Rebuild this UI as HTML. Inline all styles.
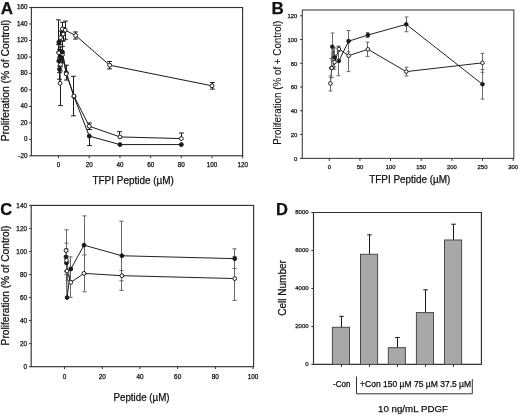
<!DOCTYPE html>
<html><head><meta charset="utf-8"><style>
html,body{margin:0;padding:0;background:#fff;width:520px;height:417px;overflow:hidden}
svg{display:block;will-change:transform}
text{stroke:#111;stroke-width:0.25px}
</style></head><body>
<svg width="520" height="417" viewBox="0 0 520 417" font-family="Liberation Sans, sans-serif" fill="#111">
<rect width="520" height="417" fill="#fff"/>
<rect x="31.35" y="7.5" width="211.25" height="148.25" fill="none" stroke="#333" stroke-width="1.15"/>
<line x1="58.60" y1="155.75" x2="58.60" y2="158.25" stroke="#333" stroke-width="1"/>
<text x="58.60" y="166.60" font-size="6.3" text-anchor="middle" font-weight="normal" >0</text>
<line x1="89.28" y1="155.75" x2="89.28" y2="158.25" stroke="#333" stroke-width="1"/>
<text x="89.28" y="166.60" font-size="6.3" text-anchor="middle" font-weight="normal" >20</text>
<line x1="119.96" y1="155.75" x2="119.96" y2="158.25" stroke="#333" stroke-width="1"/>
<text x="119.96" y="166.60" font-size="6.3" text-anchor="middle" font-weight="normal" >40</text>
<line x1="150.64" y1="155.75" x2="150.64" y2="158.25" stroke="#333" stroke-width="1"/>
<text x="150.64" y="166.60" font-size="6.3" text-anchor="middle" font-weight="normal" >60</text>
<line x1="181.32" y1="155.75" x2="181.32" y2="158.25" stroke="#333" stroke-width="1"/>
<text x="181.32" y="166.60" font-size="6.3" text-anchor="middle" font-weight="normal" >80</text>
<line x1="212.00" y1="155.75" x2="212.00" y2="158.25" stroke="#333" stroke-width="1"/>
<text x="212.00" y="166.60" font-size="6.3" text-anchor="middle" font-weight="normal" >100</text>
<line x1="242.68" y1="155.75" x2="242.68" y2="158.25" stroke="#333" stroke-width="1"/>
<text x="242.68" y="166.60" font-size="6.3" text-anchor="middle" font-weight="normal" >120</text>
<line x1="29.15" y1="155.89" x2="31.35" y2="155.89" stroke="#333" stroke-width="1"/>
<text x="27.40" y="157.86" font-size="6.3" text-anchor="end" font-weight="normal" >-20</text>
<line x1="29.15" y1="139.40" x2="31.35" y2="139.40" stroke="#333" stroke-width="1"/>
<text x="27.40" y="141.37" font-size="6.3" text-anchor="end" font-weight="normal" >0</text>
<line x1="29.15" y1="122.91" x2="31.35" y2="122.91" stroke="#333" stroke-width="1"/>
<text x="27.40" y="124.88" font-size="6.3" text-anchor="end" font-weight="normal" >20</text>
<line x1="29.15" y1="106.42" x2="31.35" y2="106.42" stroke="#333" stroke-width="1"/>
<text x="27.40" y="108.39" font-size="6.3" text-anchor="end" font-weight="normal" >40</text>
<line x1="29.15" y1="89.94" x2="31.35" y2="89.94" stroke="#333" stroke-width="1"/>
<text x="27.40" y="91.90" font-size="6.3" text-anchor="end" font-weight="normal" >60</text>
<line x1="29.15" y1="73.45" x2="31.35" y2="73.45" stroke="#333" stroke-width="1"/>
<text x="27.40" y="75.42" font-size="6.3" text-anchor="end" font-weight="normal" >80</text>
<line x1="29.15" y1="56.96" x2="31.35" y2="56.96" stroke="#333" stroke-width="1"/>
<text x="27.40" y="58.93" font-size="6.3" text-anchor="end" font-weight="normal" >100</text>
<line x1="29.15" y1="40.47" x2="31.35" y2="40.47" stroke="#333" stroke-width="1"/>
<text x="27.40" y="42.44" font-size="6.3" text-anchor="end" font-weight="normal" >120</text>
<line x1="29.15" y1="23.98" x2="31.35" y2="23.98" stroke="#333" stroke-width="1"/>
<text x="27.40" y="25.95" font-size="6.3" text-anchor="end" font-weight="normal" >140</text>
<line x1="29.15" y1="7.50" x2="31.35" y2="7.50" stroke="#333" stroke-width="1"/>
<text x="27.40" y="9.46" font-size="6.3" text-anchor="end" font-weight="normal" >160</text>
<text x="9.00" y="80.60" font-size="10" text-anchor="middle" font-weight="normal" transform="rotate(-90 9.0 80.6)" textLength="121.5" lengthAdjust="spacingAndGlyphs">Proliferation (% of Control)</text>
<text x="133.20" y="183.60" font-size="10" text-anchor="middle" font-weight="normal" textLength="81.5" lengthAdjust="spacingAndGlyphs">TFPI Peptide (µM)</text>
<text x="7.00" y="13.90" font-size="17" text-anchor="middle" font-weight="bold" >A</text>
<polyline points="60.44,37.67 62.44,28.93 63.20,34.12 65.20,30.17 75.63,35.53 109.68,65.20 212.00,85.81" fill="none" stroke="#1a1a1a" stroke-width="1"/>
<line x1="60.50" y1="37.67" x2="60.50" y2="31.07" stroke="#1a1a1a" stroke-width="1"/>
<line x1="58.10" y1="31.07" x2="62.90" y2="31.07" stroke="#1a1a1a" stroke-width="1"/>
<line x1="60.50" y1="37.67" x2="60.50" y2="44.26" stroke="#1a1a1a" stroke-width="1"/>
<line x1="58.10" y1="44.26" x2="62.90" y2="44.26" stroke="#1a1a1a" stroke-width="1"/>
<line x1="62.50" y1="28.93" x2="62.50" y2="22.34" stroke="#1a1a1a" stroke-width="1"/>
<line x1="60.10" y1="22.34" x2="64.90" y2="22.34" stroke="#1a1a1a" stroke-width="1"/>
<line x1="62.50" y1="28.93" x2="62.50" y2="35.53" stroke="#1a1a1a" stroke-width="1"/>
<line x1="60.10" y1="35.53" x2="64.90" y2="35.53" stroke="#1a1a1a" stroke-width="1"/>
<line x1="63.50" y1="34.12" x2="63.50" y2="27.53" stroke="#1a1a1a" stroke-width="1"/>
<line x1="61.10" y1="27.53" x2="65.90" y2="27.53" stroke="#1a1a1a" stroke-width="1"/>
<line x1="63.50" y1="34.12" x2="63.50" y2="40.72" stroke="#1a1a1a" stroke-width="1"/>
<line x1="61.10" y1="40.72" x2="65.90" y2="40.72" stroke="#1a1a1a" stroke-width="1"/>
<line x1="65.50" y1="30.17" x2="65.50" y2="21.10" stroke="#1a1a1a" stroke-width="1"/>
<line x1="63.10" y1="21.10" x2="67.90" y2="21.10" stroke="#1a1a1a" stroke-width="1"/>
<line x1="65.50" y1="30.17" x2="65.50" y2="39.24" stroke="#1a1a1a" stroke-width="1"/>
<line x1="63.10" y1="39.24" x2="67.90" y2="39.24" stroke="#1a1a1a" stroke-width="1"/>
<line x1="75.50" y1="35.53" x2="75.50" y2="31.98" stroke="#1a1a1a" stroke-width="1"/>
<line x1="73.10" y1="31.98" x2="77.90" y2="31.98" stroke="#1a1a1a" stroke-width="1"/>
<line x1="75.50" y1="35.53" x2="75.50" y2="39.07" stroke="#1a1a1a" stroke-width="1"/>
<line x1="73.10" y1="39.07" x2="77.90" y2="39.07" stroke="#1a1a1a" stroke-width="1"/>
<line x1="109.50" y1="65.20" x2="109.50" y2="61.49" stroke="#1a1a1a" stroke-width="1"/>
<line x1="107.10" y1="61.49" x2="111.90" y2="61.49" stroke="#1a1a1a" stroke-width="1"/>
<line x1="109.50" y1="65.20" x2="109.50" y2="68.91" stroke="#1a1a1a" stroke-width="1"/>
<line x1="107.10" y1="68.91" x2="111.90" y2="68.91" stroke="#1a1a1a" stroke-width="1"/>
<line x1="212.50" y1="85.81" x2="212.50" y2="82.52" stroke="#1a1a1a" stroke-width="1"/>
<line x1="210.10" y1="82.52" x2="214.90" y2="82.52" stroke="#1a1a1a" stroke-width="1"/>
<line x1="212.50" y1="85.81" x2="212.50" y2="89.11" stroke="#1a1a1a" stroke-width="1"/>
<line x1="210.10" y1="89.11" x2="214.90" y2="89.11" stroke="#1a1a1a" stroke-width="1"/>
<polyline points="58.85,42.12 59.08,61.08 59.57,69.33 60.52,56.96 62.44,52.01 66.27,72.62 73.94,96.53 89.28,136.10 119.96,144.59 181.32,144.59" fill="none" stroke="#1a1a1a" stroke-width="1"/>
<line x1="58.50" y1="42.12" x2="58.50" y2="19.86" stroke="#1a1a1a" stroke-width="1"/>
<line x1="56.10" y1="19.86" x2="60.90" y2="19.86" stroke="#1a1a1a" stroke-width="1"/>
<line x1="58.50" y1="42.12" x2="58.50" y2="52.01" stroke="#1a1a1a" stroke-width="1"/>
<line x1="56.10" y1="52.01" x2="60.90" y2="52.01" stroke="#1a1a1a" stroke-width="1"/>
<line x1="59.50" y1="61.08" x2="59.50" y2="49.54" stroke="#1a1a1a" stroke-width="1"/>
<line x1="57.10" y1="49.54" x2="61.90" y2="49.54" stroke="#1a1a1a" stroke-width="1"/>
<line x1="59.50" y1="61.08" x2="59.50" y2="72.62" stroke="#1a1a1a" stroke-width="1"/>
<line x1="57.10" y1="72.62" x2="61.90" y2="72.62" stroke="#1a1a1a" stroke-width="1"/>
<line x1="59.50" y1="69.33" x2="59.50" y2="59.43" stroke="#1a1a1a" stroke-width="1"/>
<line x1="57.10" y1="59.43" x2="61.90" y2="59.43" stroke="#1a1a1a" stroke-width="1"/>
<line x1="59.50" y1="69.33" x2="59.50" y2="79.22" stroke="#1a1a1a" stroke-width="1"/>
<line x1="57.10" y1="79.22" x2="61.90" y2="79.22" stroke="#1a1a1a" stroke-width="1"/>
<line x1="60.50" y1="56.96" x2="60.50" y2="47.07" stroke="#1a1a1a" stroke-width="1"/>
<line x1="58.10" y1="47.07" x2="62.90" y2="47.07" stroke="#1a1a1a" stroke-width="1"/>
<line x1="60.50" y1="56.96" x2="60.50" y2="66.85" stroke="#1a1a1a" stroke-width="1"/>
<line x1="58.10" y1="66.85" x2="62.90" y2="66.85" stroke="#1a1a1a" stroke-width="1"/>
<line x1="62.50" y1="52.01" x2="62.50" y2="41.30" stroke="#1a1a1a" stroke-width="1"/>
<line x1="60.10" y1="41.30" x2="64.90" y2="41.30" stroke="#1a1a1a" stroke-width="1"/>
<line x1="62.50" y1="52.01" x2="62.50" y2="62.73" stroke="#1a1a1a" stroke-width="1"/>
<line x1="60.10" y1="62.73" x2="64.90" y2="62.73" stroke="#1a1a1a" stroke-width="1"/>
<line x1="89.50" y1="136.10" x2="89.50" y2="145.58" stroke="#1a1a1a" stroke-width="1"/>
<line x1="87.10" y1="145.58" x2="91.90" y2="145.58" stroke="#1a1a1a" stroke-width="1"/>
<polyline points="58.85,52.84 60.06,83.34 59.57,57.78 60.52,64.38 62.44,54.49 66.27,73.86 73.94,96.04 89.28,126.21 119.96,136.93 181.32,138.58" fill="none" stroke="#1a1a1a" stroke-width="1"/>
<line x1="58.50" y1="52.84" x2="58.50" y2="44.59" stroke="#1a1a1a" stroke-width="1"/>
<line x1="56.10" y1="44.59" x2="60.90" y2="44.59" stroke="#1a1a1a" stroke-width="1"/>
<line x1="58.50" y1="52.84" x2="58.50" y2="61.08" stroke="#1a1a1a" stroke-width="1"/>
<line x1="56.10" y1="61.08" x2="60.90" y2="61.08" stroke="#1a1a1a" stroke-width="1"/>
<line x1="60.50" y1="83.34" x2="60.50" y2="105.60" stroke="#1a1a1a" stroke-width="1"/>
<line x1="58.10" y1="105.60" x2="62.90" y2="105.60" stroke="#1a1a1a" stroke-width="1"/>
<line x1="59.50" y1="57.78" x2="59.50" y2="49.54" stroke="#1a1a1a" stroke-width="1"/>
<line x1="57.10" y1="49.54" x2="61.90" y2="49.54" stroke="#1a1a1a" stroke-width="1"/>
<line x1="59.50" y1="57.78" x2="59.50" y2="66.03" stroke="#1a1a1a" stroke-width="1"/>
<line x1="57.10" y1="66.03" x2="61.90" y2="66.03" stroke="#1a1a1a" stroke-width="1"/>
<line x1="60.50" y1="64.38" x2="60.50" y2="57.78" stroke="#1a1a1a" stroke-width="1"/>
<line x1="58.10" y1="57.78" x2="62.90" y2="57.78" stroke="#1a1a1a" stroke-width="1"/>
<line x1="60.50" y1="64.38" x2="60.50" y2="70.97" stroke="#1a1a1a" stroke-width="1"/>
<line x1="58.10" y1="70.97" x2="62.90" y2="70.97" stroke="#1a1a1a" stroke-width="1"/>
<line x1="62.50" y1="54.49" x2="62.50" y2="46.24" stroke="#1a1a1a" stroke-width="1"/>
<line x1="60.10" y1="46.24" x2="64.90" y2="46.24" stroke="#1a1a1a" stroke-width="1"/>
<line x1="62.50" y1="54.49" x2="62.50" y2="62.73" stroke="#1a1a1a" stroke-width="1"/>
<line x1="60.10" y1="62.73" x2="64.90" y2="62.73" stroke="#1a1a1a" stroke-width="1"/>
<line x1="66.50" y1="73.86" x2="66.50" y2="65.20" stroke="#1a1a1a" stroke-width="1"/>
<line x1="64.10" y1="65.20" x2="68.90" y2="65.20" stroke="#1a1a1a" stroke-width="1"/>
<line x1="66.50" y1="73.86" x2="66.50" y2="80.04" stroke="#1a1a1a" stroke-width="1"/>
<line x1="64.10" y1="80.04" x2="68.90" y2="80.04" stroke="#1a1a1a" stroke-width="1"/>
<line x1="73.50" y1="96.04" x2="73.50" y2="76.25" stroke="#1a1a1a" stroke-width="1"/>
<line x1="71.10" y1="76.25" x2="75.90" y2="76.25" stroke="#1a1a1a" stroke-width="1"/>
<line x1="73.50" y1="96.04" x2="73.50" y2="115.82" stroke="#1a1a1a" stroke-width="1"/>
<line x1="71.10" y1="115.82" x2="75.90" y2="115.82" stroke="#1a1a1a" stroke-width="1"/>
<line x1="89.50" y1="126.21" x2="89.50" y2="122.91" stroke="#1a1a1a" stroke-width="1"/>
<line x1="87.10" y1="122.91" x2="91.90" y2="122.91" stroke="#1a1a1a" stroke-width="1"/>
<line x1="89.50" y1="126.21" x2="89.50" y2="129.51" stroke="#1a1a1a" stroke-width="1"/>
<line x1="87.10" y1="129.51" x2="91.90" y2="129.51" stroke="#1a1a1a" stroke-width="1"/>
<line x1="119.50" y1="136.93" x2="119.50" y2="131.73" stroke="#1a1a1a" stroke-width="1"/>
<line x1="117.10" y1="131.73" x2="121.90" y2="131.73" stroke="#1a1a1a" stroke-width="1"/>
<line x1="181.50" y1="138.58" x2="181.50" y2="132.97" stroke="#1a1a1a" stroke-width="1"/>
<line x1="179.10" y1="132.97" x2="183.90" y2="132.97" stroke="#1a1a1a" stroke-width="1"/>
<circle cx="58.85" cy="52.84" r="1.95" fill="#fff" stroke="#1a1a1a" stroke-width="1"/>
<circle cx="60.06" cy="83.34" r="1.95" fill="#fff" stroke="#1a1a1a" stroke-width="1"/>
<circle cx="59.57" cy="57.78" r="1.95" fill="#fff" stroke="#1a1a1a" stroke-width="1"/>
<circle cx="60.52" cy="64.38" r="1.95" fill="#fff" stroke="#1a1a1a" stroke-width="1"/>
<circle cx="62.44" cy="54.49" r="1.95" fill="#fff" stroke="#1a1a1a" stroke-width="1"/>
<circle cx="58.85" cy="42.12" r="1.95" fill="#1a1a1a" stroke="#1a1a1a" stroke-width="1"/>
<circle cx="59.08" cy="61.08" r="1.95" fill="#1a1a1a" stroke="#1a1a1a" stroke-width="1"/>
<circle cx="59.57" cy="69.33" r="1.95" fill="#1a1a1a" stroke="#1a1a1a" stroke-width="1"/>
<circle cx="60.52" cy="56.96" r="1.95" fill="#1a1a1a" stroke="#1a1a1a" stroke-width="1"/>
<circle cx="62.44" cy="52.01" r="1.95" fill="#1a1a1a" stroke="#1a1a1a" stroke-width="1"/>
<circle cx="66.27" cy="72.62" r="1.95" fill="#1a1a1a" stroke="#1a1a1a" stroke-width="1"/>
<circle cx="73.94" cy="96.53" r="1.95" fill="#1a1a1a" stroke="#1a1a1a" stroke-width="1"/>
<circle cx="89.28" cy="136.10" r="1.95" fill="#1a1a1a" stroke="#1a1a1a" stroke-width="1"/>
<circle cx="119.96" cy="144.59" r="1.95" fill="#1a1a1a" stroke="#1a1a1a" stroke-width="1"/>
<circle cx="181.32" cy="144.59" r="1.95" fill="#1a1a1a" stroke="#1a1a1a" stroke-width="1"/>
<circle cx="66.27" cy="73.86" r="1.95" fill="#fff" stroke="#1a1a1a" stroke-width="1"/>
<circle cx="73.94" cy="96.04" r="1.95" fill="#fff" stroke="#1a1a1a" stroke-width="1"/>
<circle cx="89.28" cy="126.21" r="1.95" fill="#fff" stroke="#1a1a1a" stroke-width="1"/>
<circle cx="119.96" cy="136.93" r="1.95" fill="#fff" stroke="#1a1a1a" stroke-width="1"/>
<circle cx="181.32" cy="138.58" r="1.95" fill="#fff" stroke="#1a1a1a" stroke-width="1"/>
<circle cx="60.44" cy="37.67" r="1.95" fill="#fff" stroke="#1a1a1a" stroke-width="1"/>
<circle cx="62.44" cy="28.93" r="1.95" fill="#fff" stroke="#1a1a1a" stroke-width="1"/>
<circle cx="63.20" cy="34.12" r="1.95" fill="#fff" stroke="#1a1a1a" stroke-width="1"/>
<circle cx="65.20" cy="30.17" r="1.95" fill="#fff" stroke="#1a1a1a" stroke-width="1"/>
<circle cx="75.63" cy="35.53" r="1.95" fill="#fff" stroke="#1a1a1a" stroke-width="1"/>
<circle cx="109.68" cy="65.20" r="1.95" fill="#fff" stroke="#1a1a1a" stroke-width="1"/>
<circle cx="212.00" cy="85.81" r="1.95" fill="#fff" stroke="#1a1a1a" stroke-width="1"/>
<rect x="302.3" y="10.0" width="211.49999999999994" height="148.4" fill="none" stroke="#4a4a4a" stroke-width="1.15"/>
<line x1="329.30" y1="158.40" x2="329.30" y2="160.90" stroke="#333" stroke-width="1"/>
<text x="329.30" y="169.00" font-size="5.9" text-anchor="middle" font-weight="normal" >0</text>
<line x1="359.94" y1="158.40" x2="359.94" y2="160.90" stroke="#333" stroke-width="1"/>
<text x="359.94" y="169.00" font-size="5.9" text-anchor="middle" font-weight="normal" >50</text>
<line x1="390.58" y1="158.40" x2="390.58" y2="160.90" stroke="#333" stroke-width="1"/>
<text x="390.58" y="169.00" font-size="5.9" text-anchor="middle" font-weight="normal" >100</text>
<line x1="421.22" y1="158.40" x2="421.22" y2="160.90" stroke="#333" stroke-width="1"/>
<text x="421.22" y="169.00" font-size="5.9" text-anchor="middle" font-weight="normal" >150</text>
<line x1="451.86" y1="158.40" x2="451.86" y2="160.90" stroke="#333" stroke-width="1"/>
<text x="451.86" y="169.00" font-size="5.9" text-anchor="middle" font-weight="normal" >200</text>
<line x1="482.50" y1="158.40" x2="482.50" y2="160.90" stroke="#333" stroke-width="1"/>
<text x="482.50" y="169.00" font-size="5.9" text-anchor="middle" font-weight="normal" >250</text>
<line x1="513.14" y1="158.40" x2="513.14" y2="160.90" stroke="#333" stroke-width="1"/>
<text x="513.14" y="169.00" font-size="5.9" text-anchor="middle" font-weight="normal" >300</text>
<line x1="300.10" y1="158.30" x2="302.30" y2="158.30" stroke="#333" stroke-width="1"/>
<text x="297.30" y="160.72" font-size="5.9" text-anchor="end" font-weight="normal" >0</text>
<line x1="300.10" y1="134.55" x2="302.30" y2="134.55" stroke="#333" stroke-width="1"/>
<text x="297.30" y="136.97" font-size="5.9" text-anchor="end" font-weight="normal" >20</text>
<line x1="300.10" y1="110.80" x2="302.30" y2="110.80" stroke="#333" stroke-width="1"/>
<text x="297.30" y="113.22" font-size="5.9" text-anchor="end" font-weight="normal" >40</text>
<line x1="300.10" y1="87.05" x2="302.30" y2="87.05" stroke="#333" stroke-width="1"/>
<text x="297.30" y="89.47" font-size="5.9" text-anchor="end" font-weight="normal" >60</text>
<line x1="300.10" y1="63.30" x2="302.30" y2="63.30" stroke="#333" stroke-width="1"/>
<text x="297.30" y="65.72" font-size="5.9" text-anchor="end" font-weight="normal" >80</text>
<line x1="300.10" y1="39.55" x2="302.30" y2="39.55" stroke="#333" stroke-width="1"/>
<text x="297.30" y="41.97" font-size="5.9" text-anchor="end" font-weight="normal" >100</text>
<line x1="300.10" y1="15.80" x2="302.30" y2="15.80" stroke="#333" stroke-width="1"/>
<text x="297.30" y="18.22" font-size="5.9" text-anchor="end" font-weight="normal" >120</text>
<text x="280.60" y="82.80" font-size="10" text-anchor="middle" font-weight="normal" style="stroke-width:0.1px" transform="rotate(-90 280.6 82.8)" textLength="124" lengthAdjust="spacingAndGlyphs">Proliferation (% of + Control)</text>
<text x="409.80" y="183.00" font-size="10" text-anchor="middle" font-weight="normal" textLength="81.2" lengthAdjust="spacingAndGlyphs">TFPI Peptide (µM)</text>
<text x="277.60" y="14.00" font-size="17" text-anchor="middle" font-weight="bold" >B</text>
<polyline points="331.44,68.05 332.30,46.68 334.57,57.36 338.86,60.93 348.60,41.21 367.91,35.04 406.21,24.35 482.50,84.32" fill="none" stroke="#222" stroke-width="1"/>
<line x1="331.50" y1="68.05" x2="331.50" y2="58.55" stroke="#6a6a6a" stroke-width="1"/>
<line x1="329.60" y1="58.55" x2="333.40" y2="58.55" stroke="#6a6a6a" stroke-width="1"/>
<line x1="331.50" y1="68.05" x2="331.50" y2="77.55" stroke="#6a6a6a" stroke-width="1"/>
<line x1="329.60" y1="77.55" x2="333.40" y2="77.55" stroke="#6a6a6a" stroke-width="1"/>
<line x1="332.50" y1="46.68" x2="332.50" y2="33.02" stroke="#6a6a6a" stroke-width="1"/>
<line x1="330.60" y1="33.02" x2="334.40" y2="33.02" stroke="#6a6a6a" stroke-width="1"/>
<line x1="332.50" y1="46.68" x2="332.50" y2="60.33" stroke="#6a6a6a" stroke-width="1"/>
<line x1="330.60" y1="60.33" x2="334.40" y2="60.33" stroke="#6a6a6a" stroke-width="1"/>
<line x1="334.50" y1="57.36" x2="334.50" y2="47.86" stroke="#6a6a6a" stroke-width="1"/>
<line x1="332.60" y1="47.86" x2="336.40" y2="47.86" stroke="#6a6a6a" stroke-width="1"/>
<line x1="334.50" y1="57.36" x2="334.50" y2="66.86" stroke="#6a6a6a" stroke-width="1"/>
<line x1="332.60" y1="66.86" x2="336.40" y2="66.86" stroke="#6a6a6a" stroke-width="1"/>
<line x1="338.50" y1="60.93" x2="338.50" y2="46.08" stroke="#6a6a6a" stroke-width="1"/>
<line x1="336.60" y1="46.08" x2="340.40" y2="46.08" stroke="#6a6a6a" stroke-width="1"/>
<line x1="338.50" y1="60.93" x2="338.50" y2="75.77" stroke="#6a6a6a" stroke-width="1"/>
<line x1="336.60" y1="75.77" x2="340.40" y2="75.77" stroke="#6a6a6a" stroke-width="1"/>
<line x1="348.50" y1="41.21" x2="348.50" y2="30.53" stroke="#6a6a6a" stroke-width="1"/>
<line x1="346.60" y1="30.53" x2="350.40" y2="30.53" stroke="#6a6a6a" stroke-width="1"/>
<line x1="348.50" y1="41.21" x2="348.50" y2="51.90" stroke="#6a6a6a" stroke-width="1"/>
<line x1="346.60" y1="51.90" x2="350.40" y2="51.90" stroke="#6a6a6a" stroke-width="1"/>
<line x1="367.50" y1="35.04" x2="367.50" y2="32.66" stroke="#6a6a6a" stroke-width="1"/>
<line x1="365.60" y1="32.66" x2="369.40" y2="32.66" stroke="#6a6a6a" stroke-width="1"/>
<line x1="367.50" y1="35.04" x2="367.50" y2="37.41" stroke="#6a6a6a" stroke-width="1"/>
<line x1="365.60" y1="37.41" x2="369.40" y2="37.41" stroke="#6a6a6a" stroke-width="1"/>
<line x1="406.50" y1="24.35" x2="406.50" y2="16.99" stroke="#6a6a6a" stroke-width="1"/>
<line x1="404.60" y1="16.99" x2="408.40" y2="16.99" stroke="#6a6a6a" stroke-width="1"/>
<line x1="406.50" y1="24.35" x2="406.50" y2="31.71" stroke="#6a6a6a" stroke-width="1"/>
<line x1="404.60" y1="31.71" x2="408.40" y2="31.71" stroke="#6a6a6a" stroke-width="1"/>
<line x1="482.50" y1="84.32" x2="482.50" y2="69.48" stroke="#6a6a6a" stroke-width="1"/>
<line x1="480.60" y1="69.48" x2="484.40" y2="69.48" stroke="#6a6a6a" stroke-width="1"/>
<line x1="482.50" y1="84.32" x2="482.50" y2="99.16" stroke="#6a6a6a" stroke-width="1"/>
<line x1="480.60" y1="99.16" x2="484.40" y2="99.16" stroke="#6a6a6a" stroke-width="1"/>
<polyline points="330.40,83.49 331.69,68.05 334.57,62.11 338.86,49.05 348.60,55.70 367.91,49.29 406.21,71.61 482.50,62.83" fill="none" stroke="#222" stroke-width="1"/>
<line x1="330.50" y1="83.49" x2="330.50" y2="76.01" stroke="#6a6a6a" stroke-width="1"/>
<line x1="328.60" y1="76.01" x2="332.40" y2="76.01" stroke="#6a6a6a" stroke-width="1"/>
<line x1="330.50" y1="83.49" x2="330.50" y2="90.97" stroke="#6a6a6a" stroke-width="1"/>
<line x1="328.60" y1="90.97" x2="332.40" y2="90.97" stroke="#6a6a6a" stroke-width="1"/>
<line x1="331.50" y1="68.05" x2="331.50" y2="58.55" stroke="#6a6a6a" stroke-width="1"/>
<line x1="329.60" y1="58.55" x2="333.40" y2="58.55" stroke="#6a6a6a" stroke-width="1"/>
<line x1="331.50" y1="68.05" x2="331.50" y2="77.55" stroke="#6a6a6a" stroke-width="1"/>
<line x1="329.60" y1="77.55" x2="333.40" y2="77.55" stroke="#6a6a6a" stroke-width="1"/>
<line x1="334.50" y1="62.11" x2="334.50" y2="54.99" stroke="#6a6a6a" stroke-width="1"/>
<line x1="332.60" y1="54.99" x2="336.40" y2="54.99" stroke="#6a6a6a" stroke-width="1"/>
<line x1="334.50" y1="62.11" x2="334.50" y2="69.24" stroke="#6a6a6a" stroke-width="1"/>
<line x1="332.60" y1="69.24" x2="336.40" y2="69.24" stroke="#6a6a6a" stroke-width="1"/>
<line x1="338.50" y1="49.05" x2="338.50" y2="46.68" stroke="#6a6a6a" stroke-width="1"/>
<line x1="336.60" y1="46.68" x2="340.40" y2="46.68" stroke="#6a6a6a" stroke-width="1"/>
<line x1="338.50" y1="49.05" x2="338.50" y2="51.43" stroke="#6a6a6a" stroke-width="1"/>
<line x1="336.60" y1="51.43" x2="340.40" y2="51.43" stroke="#6a6a6a" stroke-width="1"/>
<line x1="348.50" y1="55.70" x2="348.50" y2="39.79" stroke="#6a6a6a" stroke-width="1"/>
<line x1="346.60" y1="39.79" x2="350.40" y2="39.79" stroke="#6a6a6a" stroke-width="1"/>
<line x1="348.50" y1="55.70" x2="348.50" y2="71.61" stroke="#6a6a6a" stroke-width="1"/>
<line x1="346.60" y1="71.61" x2="350.40" y2="71.61" stroke="#6a6a6a" stroke-width="1"/>
<line x1="367.50" y1="49.29" x2="367.50" y2="42.16" stroke="#6a6a6a" stroke-width="1"/>
<line x1="365.60" y1="42.16" x2="369.40" y2="42.16" stroke="#6a6a6a" stroke-width="1"/>
<line x1="367.50" y1="49.29" x2="367.50" y2="56.41" stroke="#6a6a6a" stroke-width="1"/>
<line x1="365.60" y1="56.41" x2="369.40" y2="56.41" stroke="#6a6a6a" stroke-width="1"/>
<line x1="406.50" y1="71.61" x2="406.50" y2="67.22" stroke="#6a6a6a" stroke-width="1"/>
<line x1="404.60" y1="67.22" x2="408.40" y2="67.22" stroke="#6a6a6a" stroke-width="1"/>
<line x1="406.50" y1="71.61" x2="406.50" y2="76.01" stroke="#6a6a6a" stroke-width="1"/>
<line x1="404.60" y1="76.01" x2="408.40" y2="76.01" stroke="#6a6a6a" stroke-width="1"/>
<line x1="482.50" y1="62.83" x2="482.50" y2="53.33" stroke="#6a6a6a" stroke-width="1"/>
<line x1="480.60" y1="53.33" x2="484.40" y2="53.33" stroke="#6a6a6a" stroke-width="1"/>
<line x1="482.50" y1="62.83" x2="482.50" y2="72.33" stroke="#6a6a6a" stroke-width="1"/>
<line x1="480.60" y1="72.33" x2="484.40" y2="72.33" stroke="#6a6a6a" stroke-width="1"/>
<circle cx="331.44" cy="68.05" r="1.8" fill="#1a1a1a" stroke="#1a1a1a" stroke-width="1"/>
<circle cx="332.30" cy="46.68" r="1.8" fill="#1a1a1a" stroke="#1a1a1a" stroke-width="1"/>
<circle cx="334.57" cy="57.36" r="1.8" fill="#1a1a1a" stroke="#1a1a1a" stroke-width="1"/>
<circle cx="338.86" cy="60.93" r="1.8" fill="#1a1a1a" stroke="#1a1a1a" stroke-width="1"/>
<circle cx="348.60" cy="41.21" r="1.8" fill="#1a1a1a" stroke="#1a1a1a" stroke-width="1"/>
<circle cx="367.91" cy="35.04" r="1.8" fill="#1a1a1a" stroke="#1a1a1a" stroke-width="1"/>
<circle cx="406.21" cy="24.35" r="1.8" fill="#1a1a1a" stroke="#1a1a1a" stroke-width="1"/>
<circle cx="482.50" cy="84.32" r="1.8" fill="#1a1a1a" stroke="#1a1a1a" stroke-width="1"/>
<circle cx="330.40" cy="83.49" r="1.8" fill="#fff" stroke="#1a1a1a" stroke-width="1"/>
<circle cx="331.69" cy="68.05" r="1.8" fill="#fff" stroke="#1a1a1a" stroke-width="1"/>
<circle cx="334.57" cy="62.11" r="1.8" fill="#fff" stroke="#1a1a1a" stroke-width="1"/>
<circle cx="338.86" cy="49.05" r="1.8" fill="#fff" stroke="#1a1a1a" stroke-width="1"/>
<circle cx="348.60" cy="55.70" r="1.8" fill="#fff" stroke="#1a1a1a" stroke-width="1"/>
<circle cx="367.91" cy="49.29" r="1.8" fill="#fff" stroke="#1a1a1a" stroke-width="1"/>
<circle cx="406.21" cy="71.61" r="1.8" fill="#fff" stroke="#1a1a1a" stroke-width="1"/>
<circle cx="482.50" cy="62.83" r="1.8" fill="#fff" stroke="#1a1a1a" stroke-width="1"/>
<rect x="31.2" y="205.4" width="222.4" height="161.29999999999998" fill="none" stroke="#333" stroke-width="1.15"/>
<line x1="64.60" y1="366.70" x2="64.60" y2="369.20" stroke="#333" stroke-width="1"/>
<text x="64.60" y="378.50" font-size="6.4" text-anchor="middle" font-weight="normal" >0</text>
<line x1="102.28" y1="366.70" x2="102.28" y2="369.20" stroke="#333" stroke-width="1"/>
<text x="102.28" y="378.50" font-size="6.4" text-anchor="middle" font-weight="normal" >20</text>
<line x1="139.96" y1="366.70" x2="139.96" y2="369.20" stroke="#333" stroke-width="1"/>
<text x="139.96" y="378.50" font-size="6.4" text-anchor="middle" font-weight="normal" >40</text>
<line x1="177.64" y1="366.70" x2="177.64" y2="369.20" stroke="#333" stroke-width="1"/>
<text x="177.64" y="378.50" font-size="6.4" text-anchor="middle" font-weight="normal" >60</text>
<line x1="215.32" y1="366.70" x2="215.32" y2="369.20" stroke="#333" stroke-width="1"/>
<text x="215.32" y="378.50" font-size="6.4" text-anchor="middle" font-weight="normal" >80</text>
<line x1="253.00" y1="366.70" x2="253.00" y2="369.20" stroke="#333" stroke-width="1"/>
<text x="253.00" y="378.50" font-size="6.4" text-anchor="middle" font-weight="normal" >100</text>
<line x1="29.00" y1="366.70" x2="31.20" y2="366.70" stroke="#333" stroke-width="1"/>
<text x="27.00" y="369.00" font-size="6.4" text-anchor="end" font-weight="normal" >0</text>
<line x1="29.00" y1="343.66" x2="31.20" y2="343.66" stroke="#333" stroke-width="1"/>
<text x="27.00" y="345.96" font-size="6.4" text-anchor="end" font-weight="normal" >20</text>
<line x1="29.00" y1="320.62" x2="31.20" y2="320.62" stroke="#333" stroke-width="1"/>
<text x="27.00" y="322.92" font-size="6.4" text-anchor="end" font-weight="normal" >40</text>
<line x1="29.00" y1="297.57" x2="31.20" y2="297.57" stroke="#333" stroke-width="1"/>
<text x="27.00" y="299.88" font-size="6.4" text-anchor="end" font-weight="normal" >60</text>
<line x1="29.00" y1="274.53" x2="31.20" y2="274.53" stroke="#333" stroke-width="1"/>
<text x="27.00" y="276.84" font-size="6.4" text-anchor="end" font-weight="normal" >80</text>
<line x1="29.00" y1="251.49" x2="31.20" y2="251.49" stroke="#333" stroke-width="1"/>
<text x="27.00" y="253.79" font-size="6.4" text-anchor="end" font-weight="normal" >100</text>
<line x1="29.00" y1="228.45" x2="31.20" y2="228.45" stroke="#333" stroke-width="1"/>
<text x="27.00" y="230.75" font-size="6.4" text-anchor="end" font-weight="normal" >120</text>
<line x1="29.00" y1="205.41" x2="31.20" y2="205.41" stroke="#333" stroke-width="1"/>
<text x="27.00" y="207.71" font-size="6.4" text-anchor="end" font-weight="normal" >140</text>
<text x="9.00" y="285.50" font-size="10" text-anchor="middle" font-weight="normal" transform="rotate(-90 9.0 285.5)" textLength="119.8" lengthAdjust="spacingAndGlyphs">Proliferation (% of Control)</text>
<text x="141.50" y="401.20" font-size="10" text-anchor="middle" font-weight="normal" textLength="56" lengthAdjust="spacingAndGlyphs">Peptide (µM)</text>
<text x="6.30" y="214.50" font-size="16.5" text-anchor="middle" font-weight="bold" >C</text>
<polyline points="66.01,256.90 66.48,263.01 67.05,297.57 70.82,269.00 84.01,245.15 121.87,255.75 234.73,258.63" fill="none" stroke="#222" stroke-width="1"/>
<line x1="66.50" y1="256.90" x2="66.50" y2="243.08" stroke="#666" stroke-width="1"/>
<line x1="64.40" y1="243.08" x2="68.60" y2="243.08" stroke="#666" stroke-width="1"/>
<line x1="66.50" y1="256.90" x2="66.50" y2="270.73" stroke="#666" stroke-width="1"/>
<line x1="64.40" y1="270.73" x2="68.60" y2="270.73" stroke="#666" stroke-width="1"/>
<line x1="66.50" y1="263.01" x2="66.50" y2="251.49" stroke="#666" stroke-width="1"/>
<line x1="64.40" y1="251.49" x2="68.60" y2="251.49" stroke="#666" stroke-width="1"/>
<line x1="66.50" y1="263.01" x2="66.50" y2="274.53" stroke="#666" stroke-width="1"/>
<line x1="64.40" y1="274.53" x2="68.60" y2="274.53" stroke="#666" stroke-width="1"/>
<line x1="70.50" y1="269.00" x2="70.50" y2="256.90" stroke="#666" stroke-width="1"/>
<line x1="68.40" y1="256.90" x2="72.60" y2="256.90" stroke="#666" stroke-width="1"/>
<line x1="70.50" y1="269.00" x2="70.50" y2="281.10" stroke="#666" stroke-width="1"/>
<line x1="68.40" y1="281.10" x2="72.60" y2="281.10" stroke="#666" stroke-width="1"/>
<line x1="84.50" y1="245.15" x2="84.50" y2="215.89" stroke="#666" stroke-width="1"/>
<line x1="82.40" y1="215.89" x2="86.60" y2="215.89" stroke="#666" stroke-width="1"/>
<line x1="84.50" y1="245.15" x2="84.50" y2="274.42" stroke="#666" stroke-width="1"/>
<line x1="82.40" y1="274.42" x2="86.60" y2="274.42" stroke="#666" stroke-width="1"/>
<line x1="121.50" y1="255.75" x2="121.50" y2="221.19" stroke="#666" stroke-width="1"/>
<line x1="119.40" y1="221.19" x2="123.60" y2="221.19" stroke="#666" stroke-width="1"/>
<line x1="121.50" y1="255.75" x2="121.50" y2="290.32" stroke="#666" stroke-width="1"/>
<line x1="119.40" y1="290.32" x2="123.60" y2="290.32" stroke="#666" stroke-width="1"/>
<line x1="234.50" y1="258.63" x2="234.50" y2="248.84" stroke="#666" stroke-width="1"/>
<line x1="232.40" y1="248.84" x2="236.60" y2="248.84" stroke="#666" stroke-width="1"/>
<line x1="234.50" y1="258.63" x2="234.50" y2="268.43" stroke="#666" stroke-width="1"/>
<line x1="232.40" y1="268.43" x2="236.60" y2="268.43" stroke="#666" stroke-width="1"/>
<polyline points="66.01,250.57 66.48,260.36 67.05,271.08 70.82,282.37 84.01,273.38 121.87,275.68 234.73,278.56" fill="none" stroke="#222" stroke-width="1"/>
<line x1="66.50" y1="250.57" x2="66.50" y2="229.83" stroke="#666" stroke-width="1"/>
<line x1="64.40" y1="229.83" x2="68.60" y2="229.83" stroke="#666" stroke-width="1"/>
<line x1="66.50" y1="250.57" x2="66.50" y2="271.31" stroke="#666" stroke-width="1"/>
<line x1="64.40" y1="271.31" x2="68.60" y2="271.31" stroke="#666" stroke-width="1"/>
<line x1="66.50" y1="260.36" x2="66.50" y2="248.84" stroke="#666" stroke-width="1"/>
<line x1="64.40" y1="248.84" x2="68.60" y2="248.84" stroke="#666" stroke-width="1"/>
<line x1="66.50" y1="260.36" x2="66.50" y2="271.88" stroke="#666" stroke-width="1"/>
<line x1="64.40" y1="271.88" x2="68.60" y2="271.88" stroke="#666" stroke-width="1"/>
<line x1="67.50" y1="271.08" x2="67.50" y2="261.86" stroke="#666" stroke-width="1"/>
<line x1="65.40" y1="261.86" x2="69.60" y2="261.86" stroke="#666" stroke-width="1"/>
<line x1="67.50" y1="271.08" x2="67.50" y2="280.29" stroke="#666" stroke-width="1"/>
<line x1="65.40" y1="280.29" x2="69.60" y2="280.29" stroke="#666" stroke-width="1"/>
<line x1="70.50" y1="282.37" x2="70.50" y2="267.39" stroke="#666" stroke-width="1"/>
<line x1="68.40" y1="267.39" x2="72.60" y2="267.39" stroke="#666" stroke-width="1"/>
<line x1="70.50" y1="282.37" x2="70.50" y2="297.34" stroke="#666" stroke-width="1"/>
<line x1="68.40" y1="297.34" x2="72.60" y2="297.34" stroke="#666" stroke-width="1"/>
<line x1="84.50" y1="273.38" x2="84.50" y2="254.95" stroke="#666" stroke-width="1"/>
<line x1="82.40" y1="254.95" x2="86.60" y2="254.95" stroke="#666" stroke-width="1"/>
<line x1="84.50" y1="273.38" x2="84.50" y2="291.81" stroke="#666" stroke-width="1"/>
<line x1="82.40" y1="291.81" x2="86.60" y2="291.81" stroke="#666" stroke-width="1"/>
<line x1="121.50" y1="275.68" x2="121.50" y2="270.61" stroke="#666" stroke-width="1"/>
<line x1="119.40" y1="270.61" x2="123.60" y2="270.61" stroke="#666" stroke-width="1"/>
<line x1="121.50" y1="275.68" x2="121.50" y2="280.75" stroke="#666" stroke-width="1"/>
<line x1="119.40" y1="280.75" x2="123.60" y2="280.75" stroke="#666" stroke-width="1"/>
<line x1="234.50" y1="278.56" x2="234.50" y2="256.67" stroke="#666" stroke-width="1"/>
<line x1="232.40" y1="256.67" x2="236.60" y2="256.67" stroke="#666" stroke-width="1"/>
<line x1="234.50" y1="278.56" x2="234.50" y2="300.45" stroke="#666" stroke-width="1"/>
<line x1="232.40" y1="300.45" x2="236.60" y2="300.45" stroke="#666" stroke-width="1"/>
<circle cx="66.01" cy="256.90" r="1.9" fill="#1a1a1a" stroke="#1a1a1a" stroke-width="1"/>
<circle cx="66.48" cy="263.01" r="1.9" fill="#1a1a1a" stroke="#1a1a1a" stroke-width="1"/>
<circle cx="67.05" cy="297.57" r="1.9" fill="#1a1a1a" stroke="#1a1a1a" stroke-width="1"/>
<circle cx="70.82" cy="269.00" r="1.9" fill="#1a1a1a" stroke="#1a1a1a" stroke-width="1"/>
<circle cx="84.01" cy="245.15" r="1.9" fill="#1a1a1a" stroke="#1a1a1a" stroke-width="1"/>
<circle cx="121.87" cy="255.75" r="1.9" fill="#1a1a1a" stroke="#1a1a1a" stroke-width="1"/>
<circle cx="234.73" cy="258.63" r="1.9" fill="#1a1a1a" stroke="#1a1a1a" stroke-width="1"/>
<circle cx="66.01" cy="250.57" r="1.9" fill="#fff" stroke="#1a1a1a" stroke-width="1"/>
<circle cx="66.48" cy="260.36" r="1.9" fill="#fff" stroke="#1a1a1a" stroke-width="1"/>
<circle cx="67.05" cy="271.08" r="1.9" fill="#fff" stroke="#1a1a1a" stroke-width="1"/>
<circle cx="70.82" cy="282.37" r="1.9" fill="#fff" stroke="#1a1a1a" stroke-width="1"/>
<circle cx="84.01" cy="273.38" r="1.9" fill="#fff" stroke="#1a1a1a" stroke-width="1"/>
<circle cx="121.87" cy="275.68" r="1.9" fill="#fff" stroke="#1a1a1a" stroke-width="1"/>
<circle cx="234.73" cy="278.56" r="1.9" fill="#fff" stroke="#1a1a1a" stroke-width="1"/>
<path d="M313.5 212.5 H481.4 V364.4 H313.5 Z" fill="none" stroke="#333" stroke-width="1.15"/>
<line x1="311.30" y1="364.40" x2="313.50" y2="364.40" stroke="#333" stroke-width="1"/>
<text x="308.60" y="366.00" font-size="6.0" text-anchor="end" font-weight="normal" >0</text>
<line x1="311.30" y1="326.45" x2="313.50" y2="326.45" stroke="#333" stroke-width="1"/>
<text x="308.60" y="328.05" font-size="6.0" text-anchor="end" font-weight="normal" >2000</text>
<line x1="311.30" y1="288.50" x2="313.50" y2="288.50" stroke="#333" stroke-width="1"/>
<text x="308.60" y="290.10" font-size="6.0" text-anchor="end" font-weight="normal" >4000</text>
<line x1="311.30" y1="250.55" x2="313.50" y2="250.55" stroke="#333" stroke-width="1"/>
<text x="308.60" y="252.15" font-size="6.0" text-anchor="end" font-weight="normal" >6000</text>
<line x1="311.30" y1="212.60" x2="313.50" y2="212.60" stroke="#333" stroke-width="1"/>
<text x="308.60" y="214.20" font-size="6.0" text-anchor="end" font-weight="normal" >8000</text>
<line x1="341.50" y1="327.30" x2="341.50" y2="316.30" stroke="#1a1a1a" stroke-width="1"/>
<line x1="339.20" y1="316.30" x2="343.80" y2="316.30" stroke="#1a1a1a" stroke-width="1"/>
<rect x="332.4" y="327.3" width="17.1" height="37.099999999999966" fill="#a8a8a8" stroke="#4a4a4a" stroke-width="1"/>
<line x1="341.50" y1="364.40" x2="341.50" y2="366.90" stroke="#333" stroke-width="1"/>
<line x1="369.50" y1="254.30" x2="369.50" y2="234.80" stroke="#1a1a1a" stroke-width="1"/>
<line x1="367.20" y1="234.80" x2="371.80" y2="234.80" stroke="#1a1a1a" stroke-width="1"/>
<rect x="360.5" y="254.3" width="17.1" height="110.09999999999997" fill="#a8a8a8" stroke="#4a4a4a" stroke-width="1"/>
<line x1="369.50" y1="364.40" x2="369.50" y2="366.90" stroke="#333" stroke-width="1"/>
<line x1="397.50" y1="347.70" x2="397.50" y2="337.50" stroke="#1a1a1a" stroke-width="1"/>
<line x1="395.20" y1="337.50" x2="399.80" y2="337.50" stroke="#1a1a1a" stroke-width="1"/>
<rect x="388.3" y="347.7" width="17.1" height="16.69999999999999" fill="#a8a8a8" stroke="#4a4a4a" stroke-width="1"/>
<line x1="397.50" y1="364.40" x2="397.50" y2="366.90" stroke="#333" stroke-width="1"/>
<line x1="425.50" y1="312.60" x2="425.50" y2="289.80" stroke="#1a1a1a" stroke-width="1"/>
<line x1="423.20" y1="289.80" x2="427.80" y2="289.80" stroke="#1a1a1a" stroke-width="1"/>
<rect x="416.4" y="312.6" width="17.1" height="51.799999999999955" fill="#a8a8a8" stroke="#4a4a4a" stroke-width="1"/>
<line x1="425.50" y1="364.40" x2="425.50" y2="366.90" stroke="#333" stroke-width="1"/>
<line x1="453.50" y1="240.00" x2="453.50" y2="224.20" stroke="#1a1a1a" stroke-width="1"/>
<line x1="451.20" y1="224.20" x2="455.80" y2="224.20" stroke="#1a1a1a" stroke-width="1"/>
<rect x="444.5" y="240.0" width="17.1" height="124.39999999999998" fill="#a8a8a8" stroke="#4a4a4a" stroke-width="1"/>
<line x1="453.50" y1="364.40" x2="453.50" y2="366.90" stroke="#333" stroke-width="1"/>
<text x="281.90" y="215.20" font-size="16.5" text-anchor="middle" font-weight="bold" >D</text>
<text x="286.00" y="287.90" font-size="10" text-anchor="middle" font-weight="normal" transform="rotate(-90 286.0 287.9)" textLength="55.5" lengthAdjust="spacingAndGlyphs">Cell Number</text>
<text x="341.70" y="386.60" font-size="8.2" text-anchor="middle" font-weight="normal" textLength="17.4" lengthAdjust="spacingAndGlyphs">-Con</text>
<text x="415.60" y="386.60" font-size="8.2" text-anchor="middle" font-weight="normal" textLength="111" lengthAdjust="spacingAndGlyphs">+Con 150 µM 75 µM 37.5 µM</text>
<path d="M356.5 376.5 V393.8 H472.3 V379" fill="none" stroke="#333" stroke-width="1"/>
<text x="413.00" y="411.50" font-size="9.6" text-anchor="middle" font-weight="normal" textLength="70" lengthAdjust="spacingAndGlyphs">10 ng/mL PDGF</text>
</svg>
</body></html>
